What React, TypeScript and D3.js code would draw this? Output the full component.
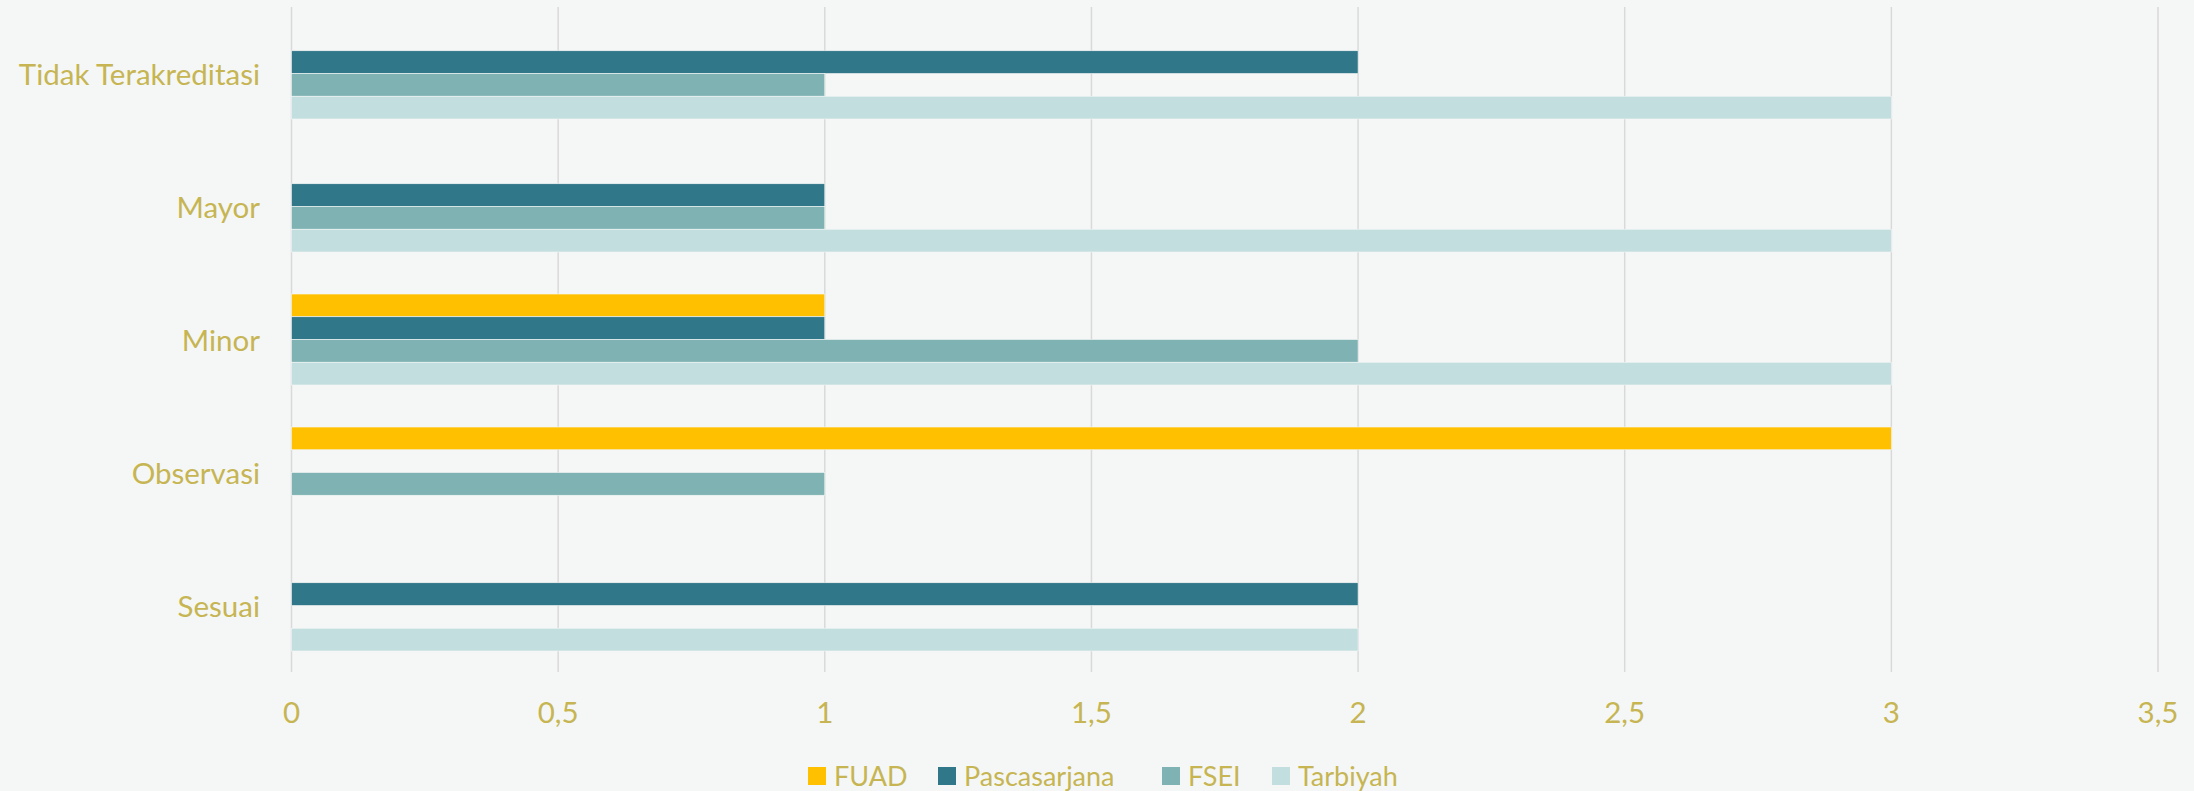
import * as d3 from "d3";

// chart data
const categories = ["Tidak Terakreditasi", "Mayor", "Minor", "Observasi", "Sesuai"];
const seriesNames = ["FUAD", "Pascasarjana", "FSEI", "Tarbiyah"];
const fuad = [0, 0, 1, 3, 0];
const pascasarjana = [2, 1, 1, 0, 2];
const fsei = [1, 1, 2, 1, 0];
const tarbiyah = [3, 3, 3, 0, 2];
const xTicks = [0, 0.5, 1, 1.5, 2, 2.5, 3, 3.5];

const seriesValues = [fuad, pascasarjana, fsei, tarbiyah];
const colors = ["#FFC000", "#31778A", "#7FB3B3", "#C3DEDF"];

const W = 2194,
  H = 791;
const margin = { top: 7, right: 36, bottom: 119, left: 291.5 };
const textColor = "#C6B552";
const font = "Lato, 'Open Sans', sans-serif";

const locale = d3.formatLocale({ decimal: ",", thousands: ".", grouping: [3], currency: ["", ""] });
const fmt = locale.format("~g");

export default function App() {
  const x = d3.scaleLinear().domain([0, 3.5]).range([margin.left, W - margin.right]);
  const y0 = d3
    .scaleBand()
    .domain(categories)
    .range([margin.top, H - margin.bottom])
    .paddingInner(0.316)
    .paddingOuter(0.158);
  const y1 = d3.scaleBand().domain(seriesNames).range([0, y0.bandwidth()]);

  const legendX = [808, 938, 1162, 1272];

  return (
    <svg
      width={W}
      height={H}
      style={{ position: "absolute", left: 0, top: 0, display: "block" }}
      fontFamily={font}
    >
      <rect width={W} height={H} fill="#F5F7F6" />
      {/* grid */}
      {xTicks.map((t) => (
        <line
          key={t}
          x1={x(t)}
          x2={x(t)}
          y1={margin.top}
          y2={H - margin.bottom}
          stroke="#D9D9D9"
          strokeWidth={1.5}
        />
      ))}
      {/* bars */}
      {categories.map((c, ci) => (
        <g key={c} transform={`translate(0,${y0(c)})`}>
          {seriesNames.map((s, si) => {
            const v = seriesValues[si][ci];
            if (!v) return null;
            return (
              <rect
                key={s}
                x={x(0)}
                y={y1(s)}
                width={x(v) - x(0)}
                height={y1.bandwidth()}
                fill={colors[si]}
                stroke="#F5F7F6"
                strokeWidth={0.6}
              />
            );
          })}
        </g>
      ))}
      {/* category labels */}
      {categories.map((c) => (
        <text
          key={c}
          x={260}
          y={y0(c)! + y0.bandwidth() / 2}
          textAnchor="end"
          dominantBaseline="central"
          fontSize={29.5}
          fill={textColor}
        >
          {c}
        </text>
      ))}
      {/* x tick labels */}
      {xTicks.map((t) => (
        <text
          key={t}
          x={x(t)}
          y={711}
          textAnchor="middle"
          dominantBaseline="central"
          fontSize={29.5}
          fill={textColor}
        >
          {fmt(t)}
        </text>
      ))}
      {/* legend */}
      {seriesNames.map((s, i) => (
        <g key={s} transform={`translate(${legendX[i]},767)`}>
          <rect width={18} height={18} fill={colors[i]} />
          <text x={26} y={8} dominantBaseline="central" fontSize={27} fill={textColor}>
            {s}
          </text>
        </g>
      ))}
    </svg>
  );
}
